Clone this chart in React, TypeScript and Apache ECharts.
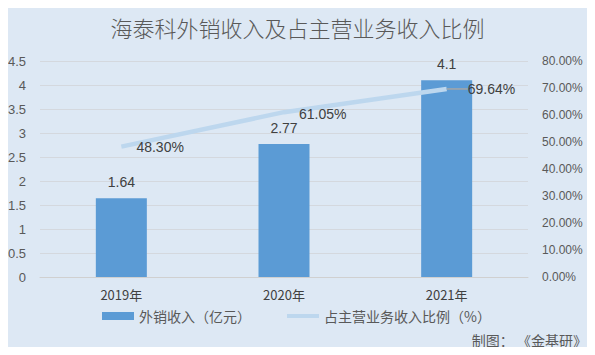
import React, { useEffect, useRef } from "react";
import * as echarts from "echarts";

const categories = ["2019年", "2020年", "2021年"];
const exportRevenue = [1.64, 2.77, 4.1];
const exportShare = [48.3, 61.05, 69.64];
const title = "海泰科外销收入及占主营业务收入比例";
const barName = "外销收入（亿元）";
const lineName = "占主营业务收入比例（%）";
const sourceText = "制图： 《金基研》";

const FONT = "'Noto Sans CJK SC', 'Noto Sans', sans-serif";
const NUM_FONT = "'Liberation Sans', sans-serif";

export default function App() {
  const ref = useRef<HTMLDivElement>(null);
  useEffect(() => {
    if (!ref.current) return;
    const chart = echarts.init(ref.current, undefined, { renderer: "svg" });
    const lineLabelOffsets: [number, number][] = [[10, 0], [10, 2], [16, 0]];
    const leaderShown = [false, false, true];
    chart.setOption({
      animation: false,
      backgroundColor: "#dde8f4",
      textStyle: { fontFamily: FONT },
      title: {
        text: title,
        left: "center",
        top: 16,
        padding: 0,
        textStyle: { fontSize: 22, fontWeight: 300, color: "#595959", fontFamily: FONT },
      },
      graphic: [
        {
          type: "text",
          right: 8,
          top: 333,
          style: { text: sourceText, fontSize: 14, fill: "#595959", fontFamily: FONT },
        },
      ],
      legend: {
        bottom: 27,
        left: 97,
        itemGap: 36,
        itemWidth: 32,
        itemHeight: 8,
        textStyle: { fontSize: 14, color: "#595959", fontFamily: FONT },
        data: [
          { name: barName, icon: "rect" },
          { name: lineName, icon: "path://M0,0 L32,0 L32,4 L0,4 Z" },
        ],
      },
      grid: { left: 40, right: 67, top: 61, bottom: 78, containLabel: false },
      xAxis: {
        type: "category",
        data: categories,
        axisLine: { lineStyle: { color: "#d0d0d0" } },
        axisTick: { show: false },
        axisLabel: { fontSize: 13, color: "#404040", margin: 11, fontFamily: FONT },
      },
      yAxis: [
        {
          type: "value",
          min: 0,
          max: 4.5,
          interval: 0.5,
          axisLine: { show: false },
          axisTick: { show: false },
          splitLine: { lineStyle: { color: "#d4d8de" } },
          axisLabel: { fontSize: 13, color: "#595959", margin: 14, fontFamily: NUM_FONT },
        },
        {
          type: "value",
          min: 0,
          max: 80,
          interval: 10,
          axisLine: { show: false },
          axisTick: { show: false },
          splitLine: { show: false },
          axisLabel: {
            fontSize: 12,
            color: "#595959",
            margin: 14,
            fontFamily: NUM_FONT,
            formatter: (v: number) => v.toFixed(2) + "%",
          },
        },
      ],
      series: [
        {
          name: barName,
          type: "bar",
          data: exportRevenue,
          barWidth: 51,
          itemStyle: { color: "#5b9bd5" },
          label: {
            show: true,
            position: "top",
            distance: 9,
            fontSize: 14,
            color: "#404040",
            fontFamily: NUM_FONT,
          },
        },
        {
          name: lineName,
          type: "line",
          yAxisIndex: 1,
          data: exportShare.map((v, i) => ({
            value: v,
            labelLine: { show: leaderShown[i] },
          })),
          symbol: "circle",
          symbolSize: 0.1,
          showSymbol: true,
          lineStyle: { color: "#bdd7ee", width: 4.5 },
          itemStyle: { color: "#bdd7ee" },
          label: {
            show: true,
            position: "right",
            distance: 5,
            fontSize: 14,
            color: "#404040",
            fontFamily: NUM_FONT,
            formatter: (p: any) => p.value.toFixed(2) + "%",
          },
          labelLine: { show: false, lineStyle: { color: "#a6a6a6", width: 1.5 } },
          labelLayout: (p: any) => ({ dx: lineLabelOffsets[p.dataIndex][0], dy: lineLabelOffsets[p.dataIndex][1] }),
          z: 3,
        },
      ],
    });
    return () => chart.dispose();
  }, []);
  return <div ref={ref} style={{ width: 595, height: 355, margin: -8 }} />;
}
